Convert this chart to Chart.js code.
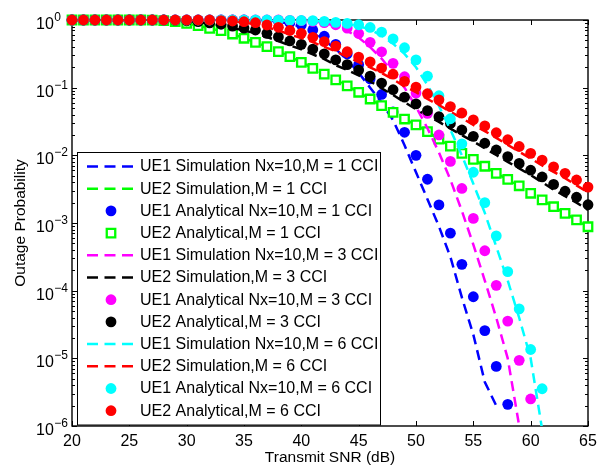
<!DOCTYPE html>
<html><head><meta charset="utf-8">
<script src="https://cdn.jsdelivr.net/npm/chart.js@4.4.1/dist/chart.umd.min.js"></script>
<style>html,body{margin:0;padding:0;background:#fff;}canvas{display:block;}</style>
</head><body>
<canvas id="c" width="610" height="467"></canvas>
<script>
// ---------- data ----------
const snr = [20,21,22,23,24,25,26,27,28,29,30,31,32,33,34,35,36,37,38,39,40,41,42,43,44,45,46,47,48,49,50,51,52,53,54,55,56,57,58,59,60,61,62,63,64,65];
const xTicks = [20,25,30,35,40,45,50,55,60,65];
const yTicks = [1e-6,1e-5,1e-4,1e-3,1e-2,1e-1,1];
const yTickBase = ['10','10','10','10','10','10','10'];
const yTickExp = ['\u22126','\u22125','\u22124','\u22123','\u22122','\u22121','0'];

// UE1, M = 1 CCI (blue)
const ue1SimM1 = [1,1,1,1,1,1,1,1,1,1,1,1,1,1,1,1,0.989,0.977,0.955,0.871,0.794,0.646,0.501,0.372,0.257,0.166,0.100,0.0603,0.0331,0.0141,0.00562,0.00224,8.91e-4,3.16e-4,7.94e-5,2.24e-5,4.47e-6,2.0e-6,null,null,null,null,null,null,null,null];
const ue1AnaM1 = [1,1,1,1,1,1,1,1,1,1,1,1,1,1,1,1,0.989,0.977,0.955,0.912,0.843,0.711,0.575,0.437,0.316,0.219,0.135,0.0794,0.0437,0.0219,0.0100,0.00443,0.00185,7.08e-4,2.45e-4,8.13e-5,2.57e-5,7.59e-6,2.09e-6,null,null,null,null,null,null,null];
// UE2, M = 1 CCI (green)
const ue2SimM1 = [1,1,1,1,1,1,1,0.995,0.977,0.944,0.893,0.824,0.753,0.695,0.621,0.537,0.468,0.403,0.340,0.287,0.237,0.193,0.159,0.130,0.106,0.0855,0.068,0.0542,0.0432,0.0344,0.0282,0.0224,0.0174,0.0137,0.0107,0.0087,0.0069,0.0054,0.0044,0.00355,0.00275,0.00219,0.00174,0.00139,0.00111,0.00088];
const ue2AnaM1 = [1,1,1,1,1,1,1,0.995,0.977,0.944,0.893,0.824,0.753,0.695,0.621,0.537,0.468,0.403,0.340,0.287,0.237,0.193,0.159,0.130,0.106,0.0855,0.068,0.0542,0.0432,0.0344,0.0282,0.0224,0.0174,0.0137,0.0107,0.0087,0.0069,0.0054,0.0044,0.00355,0.00275,0.00219,0.00174,0.00139,0.00111,0.00088];
// UE1, M = 3 CCI (magenta)
const ue1SimM3 = [1,1,1,1,1,1,1,1,1,1,1,1,1,1,1,1,1,1,1,0.989,0.977,0.955,0.912,0.813,0.692,0.550,0.398,0.269,0.166,0.100,0.0525,0.0251,0.0110,0.00437,0.00151,4.79e-4,1.41e-4,3.98e-5,1.0e-5,1.0e-6,1.0e-7,null,null,null,null,null];
const ue1AnaM3 = [1,1,1,1,1,1,1,1,1,1,1,1,1,1,1,1,1,1,1,0.989,0.977,0.955,0.912,0.851,0.759,0.631,0.468,0.339,0.229,0.145,0.0832,0.0417,0.0200,0.00813,0.00324,0.00117,3.89e-4,1.20e-4,3.55e-5,9.33e-6,2.51e-6,null,null,null,null,null];
// UE2, M = 3 CCI (black)
const ue2SimM3 = [1,1,1,1,1,1,1,1,1,0.99,0.97,0.93,0.88,0.83,0.76,0.70,0.64,0.56,0.49,0.42,0.37,0.31,0.265,0.215,0.183,0.152,0.124,0.098,0.078,0.061,0.048,0.0384,0.0312,0.0248,0.0199,0.0160,0.0127,0.0101,0.0080,0.0064,0.0051,0.0040,0.0031,0.0025,0.0020,0.00156];
const ue2AnaM3 = [1,1,1,1,1,1,1,1,1,0.99,0.975,0.945,0.905,0.865,0.813,0.759,0.711,0.635,0.562,0.490,0.437,0.372,0.316,0.257,0.219,0.182,0.148,0.117,0.0933,0.0724,0.0575,0.0457,0.0372,0.0295,0.0237,0.0191,0.0151,0.0120,0.00955,0.00759,0.00603,0.00479,0.00372,0.00295,0.00240,0.00186];
// UE1, M = 6 CCI (cyan)
const ue1SimM6 = [1,1,1,1,1,1,1,1,1,1,1,1,1,1,1,1,1,1,0.995,0.99,0.985,0.977,0.955,0.915,0.87,0.813,0.724,0.589,0.447,0.316,0.200,0.110,0.0537,0.0240,0.0100,0.00380,0.00141,4.47e-4,1.41e-4,3.98e-5,1.0e-5,8.9e-7,1e-7,null,null,null];
const ue1AnaM6 = [1,1,1,1,1,1,1,1,1,1,1,1,1,1,1,1,1,1,0.995,0.99,0.985,0.977,0.955,0.923,0.891,0.851,0.776,0.661,0.525,0.389,0.257,0.148,0.0759,0.0347,0.0148,0.00562,0.00200,6.46e-4,1.91e-4,5.37e-5,1.35e-5,3.55e-6,null,null,null,null];
// UE2, M = 6 CCI (red)
const ue2SimM6 = [1,1,1,1,1,1,1,1,1,1,1,1,1,0.977,0.96,0.92,0.86,0.78,0.70,0.61,0.54,0.47,0.40,0.345,0.285,0.238,0.20,0.164,0.133,0.104,0.086,0.068,0.0555,0.044,0.0355,0.0281,0.0228,0.0181,0.0143,0.0113,0.0090,0.0071,0.0057,0.0046,0.0036,0.00285];
const ue2AnaM6 = [1,1,1,1,1,1,1,1,1,1,1,1,1,0.977,0.966,0.944,0.912,0.843,0.780,0.700,0.635,0.555,0.479,0.412,0.340,0.283,0.240,0.195,0.158,0.124,0.102,0.0813,0.0661,0.0525,0.0422,0.0335,0.0272,0.0216,0.0170,0.0135,0.0107,0.00851,0.00676,0.00543,0.00432,0.00339];

const seriesNames = [
  'UE1 Simulation Nx=10,M = 1 CCI','UE2 Simulation,M = 1 CCI',
  'UE1 Analytical Nx=10,M = 1 CCI','UE2 Analytical,M = 1 CCI',
  'UE1 Simulation Nx=10,M = 3 CCI','UE2 Simulation,M = 3 CCI',
  'UE1 Analytical Nx=10,M = 3 CCI','UE2 Analytical,M = 3 CCI',
  'UE1 Simulation Nx=10,M = 6 CCI','UE2 Simulation,M = 6 CCI',
  'UE1 Analytical Nx=10,M = 6 CCI','UE2 Analytical,M = 6 CCI'
];
const seriesValues = [ue1SimM1,ue2SimM1,ue1AnaM1,ue2AnaM1,ue1SimM3,ue2SimM3,ue1AnaM3,ue2AnaM3,ue1SimM6,ue2SimM6,ue1AnaM6,ue2AnaM6];

// ---------- styles ----------
const FONT = '"Liberation Sans", Arial, Helvetica, sans-serif';
const FS = 16;
const colors = ['#0000ff','#00ff00','#0000ff','#00ff00','#ff00ff','#000000','#ff00ff','#000000','#00ffff','#ff0000','#00ffff','#ff0000'];
const kinds = ['sim','sim','dot','square','sim','sim','dot','dot','sim','sim','dot','dot'];

const datasets = seriesValues.map((vals, i) => {
  const data = snr.map((x, j) => ({x: x, y: vals[j]}));
  const c = colors[i];
  const base = {label: seriesNames[i], data, order: seriesValues.length - 1 - i, parsing: false};
  if (kinds[i] === 'sim') {
    return Object.assign(base, {showLine: true, borderColor: c, borderWidth: 2.5, borderDash: [10, 6],
      pointRadius: 0, pointHoverRadius: 0, fill: false, tension: 0, spanGaps: false});
  }
  if (kinds[i] === 'square') {
    return Object.assign(base, {showLine: false, pointStyle: 'rect', pointRadius: 6, pointHoverRadius: 6,
      pointBorderWidth: 2.3, pointBorderColor: c, pointBackgroundColor: '#ffffff', borderColor: c, clip: false});
  }
  return Object.assign(base, {showLine: false, pointStyle: 'circle', pointRadius: 5.4, pointHoverRadius: 5.4,
    pointBorderWidth: 0, pointBackgroundColor: c, pointBorderColor: c, borderColor: c, clip: false});
});

const framePlugin = {
  id: 'frame',
  beforeDatasetsDraw(chart) {
    const {ctx, chartArea: {left, top, right, bottom}, scales: {x, y}} = chart;
    ctx.save();
    ctx.strokeStyle = '#000';
    ctx.lineWidth = 1;
    ctx.beginPath();
    xTicks.forEach(v => {
      const p = Math.round(x.getPixelForValue(v)) + 0.5;
      ctx.moveTo(p, bottom); ctx.lineTo(p, bottom - 5);
      ctx.moveTo(p, top); ctx.lineTo(p, top + 5);
    });
    yTicks.forEach(v => {
      for (let k = 1; k <= 9; k++) {
        if (v === 1 && k > 1) break;
        const p = Math.round(y.getPixelForValue(v * k)) + 0.5;
        const L = k === 1 ? 5 : 3;
        ctx.moveTo(left, p); ctx.lineTo(left + L, p);
        ctx.moveTo(right, p); ctx.lineTo(right - L, p);
      }
    });
    ctx.stroke();
    ctx.lineWidth = 1.4;
    ctx.strokeRect(left, top, right - left, bottom - top);
    // y tick labels: base "10" with raised exponent
    ctx.fillStyle = '#000';
    ctx.textAlign = 'left';
    ctx.textBaseline = 'alphabetic';
    yTicks.forEach((v, i) => {
      const p = y.getPixelForValue(v);
      ctx.font = FS + 'px ' + FONT;
      ctx.fillText(yTickBase[i], 36, p + 9);
      const w = ctx.measureText(yTickBase[i]).width;
      ctx.font = '12px ' + FONT;
      ctx.fillText(yTickExp[i], 36 + w + 0.5, p + 1);
    });
    ctx.restore();
  }
};

const boxLegend = {
  id: 'boxLegend',
  afterDraw(chart) {
    const ctx = chart.ctx;
    const bx = 77.5, by = 152.5, bw = 303, bh = 272.5;
    ctx.save();
    ctx.fillStyle = '#fff';
    ctx.fillRect(bx, by, bw, bh);
    ctx.strokeStyle = '#000';
    ctx.lineWidth = 1;
    ctx.strokeRect(bx, by, bw, bh);
    chart.data.datasets.forEach((ds, i) => {
      const yy = 166.5 + i * 22.2;
      if (ds.showLine) {
        ctx.save();
        ctx.strokeStyle = ds.borderColor;
        ctx.lineWidth = ds.borderWidth;
        ctx.setLineDash([11, 6.5]);
        ctx.beginPath(); ctx.moveTo(87, yy); ctx.lineTo(134, yy); ctx.stroke();
        ctx.restore();
      } else {
        ctx.save();
        ctx.fillStyle = ds.pointBackgroundColor;
        ctx.strokeStyle = ds.pointBorderColor;
        ctx.lineWidth = ds.pointBorderWidth;
        Chart.helpers.drawPoint(ctx, {pointStyle: ds.pointStyle, radius: ds.pointRadius, borderWidth: ds.pointBorderWidth, rotation: 0}, 111, yy);
        ctx.restore();
      }
      ctx.fillStyle = '#000';
      ctx.font = FS + 'px ' + FONT;
      ctx.textAlign = 'left';
      ctx.textBaseline = 'middle';
      ctx.fillText(ds.label, 140, yy + 0.5);
    });
    ctx.restore();
  }
};

new Chart(document.getElementById('c'), {
  type: 'line',
  data: {datasets},
  options: {
    responsive: false, animation: false, devicePixelRatio: 1,
    events: [],
    layout: {padding: {left: 0, right: 22, top: 20, bottom: 0}},
    plugins: {legend: {display: false}, tooltip: {enabled: false}},
    scales: {
      x: {
        type: 'linear', min: 20, max: 65,
        afterBuildTicks: s => { s.ticks = xTicks.map(v => ({value: v})); },
        ticks: {font: {family: FONT, size: FS}, color: '#000', padding: 6, maxRotation: 0},
        grid: {display: false, drawTicks: false},
        border: {display: false},
        title: {display: true, text: 'Transmit SNR (dB)', font: {family: FONT, size: 15.5}, color: '#000', padding: {top: 0, bottom: 0}},
        afterFit: s => { s.height = 41; }
      },
      y: {
        type: 'logarithmic', min: 1e-6, max: 1,
        afterBuildTicks: s => { s.ticks = yTicks.map(v => ({value: v})); },
        ticks: {display: false},
        grid: {display: false, drawTicks: false},
        border: {display: false},
        title: {display: true, text: 'Outage Probability', font: {family: FONT, size: 15.5}, color: '#000', padding: {top: 11, bottom: 0}},
        afterFit: s => { s.width = 72; }
      }
    }
  },
  plugins: [framePlugin, boxLegend]
});
</script>
</body></html>
